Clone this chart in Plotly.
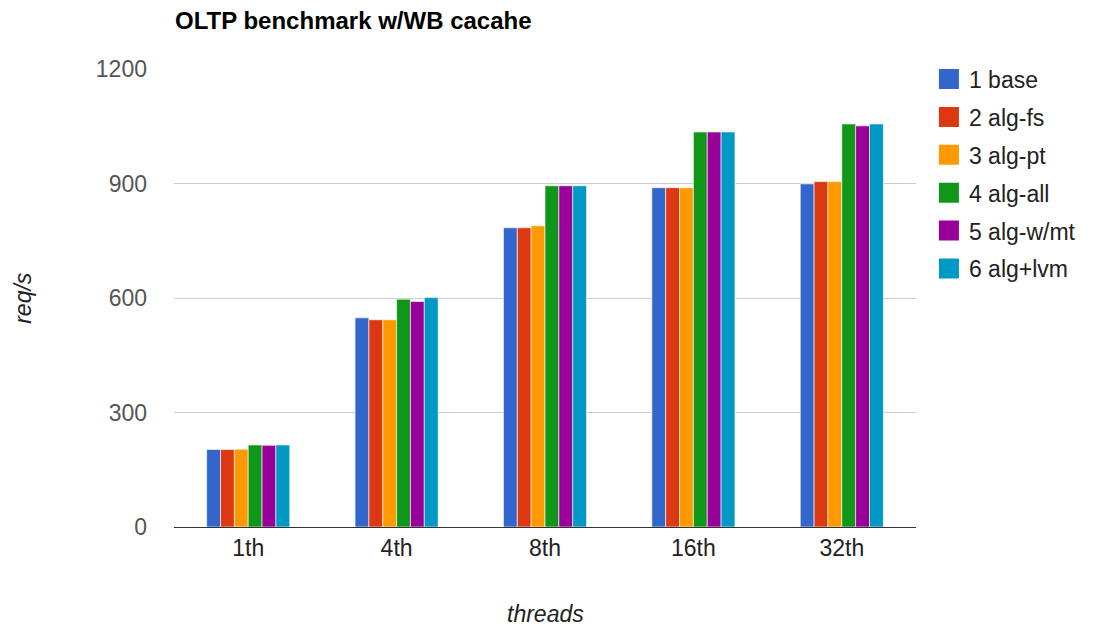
import plotly.graph_objects as go

categories = ["1th", "4th", "8th", "16th", "32th"]
series_names = ["1 base", "2 alg-fs", "3 alg-pt", "4 alg-all", "5 alg-w/mt", "6 alg+lvm"]
base = [203, 548, 784, 889, 899]
alg_fs = [203, 543, 784, 889, 905]
alg_pt = [204, 543, 789, 889, 905]
alg_all = [215, 597, 894, 1035, 1056]
alg_wmt = [214, 591, 894, 1035, 1051]
alg_lvm = [215, 601, 894, 1035, 1056]
series_values = [base, alg_fs, alg_pt, alg_all, alg_wmt, alg_lvm]
colors = ["#3366cc", "#dc3912", "#ff9900", "#109618", "#990099", "#0099c6"]
y_ticks = [0, 300, 600, 900, 1200]

FONT = "Liberation Sans, Arial, sans-serif"

# figure sized to fit the 8px body margin of the html page
W, H = 1085, 620
L, R, T, B = 166, 173, 61, 101
PW, PH = W - L - R, H - T - B

fig = go.Figure()
for name, vals, col in zip(series_names, series_values, colors):
    fig.add_trace(go.Bar(
        x=categories, y=vals, name=name, showlegend=False,
        marker=dict(color=col, line=dict(color="rgba(255,255,255,0.6)", width=1)),
    ))
# legend entries with larger square swatches
for name, col in zip(series_names, colors):
    fig.add_trace(go.Scatter(
        x=[None], y=[None], mode="markers", name=name, legendgroup=name,
        marker=dict(symbol="square", size=16, color=col, line=dict(color=col, width=4)),
    ))

fig.update_layout(
    width=W, height=H,
    margin=dict(l=L, r=R, t=T, b=B),
    paper_bgcolor="white", plot_bgcolor="white",
    barmode="group", bargap=0.44, bargroupgap=0.0,
    font=dict(family=FONT, size=23, color="#444444"),
    showlegend=True,
    legend=dict(x=1 + (925 - L - PW) / PW, xanchor="left", y=1.025, yanchor="top",
                font=dict(family=FONT, size=23, color="#222222"),
                tracegroupgap=5, bgcolor="rgba(0,0,0,0)", itemsizing="trace"),
    xaxis=dict(showgrid=False, showline=True, linecolor="#333333", linewidth=1,
               ticks="", tickfont=dict(size=23, color="#222222")),
    yaxis=dict(range=[0, 1200], tickvals=y_ticks, showgrid=True, gridcolor="#cccccc",
               gridwidth=1, zeroline=False, showline=False, ticks="",
               tickfont=dict(size=23, color="#555555"), ticklabelstandoff=26),
    annotations=[
        dict(text="<b>OLTP benchmark w/WB cacahe</b>", xref="paper", yref="paper",
             x=(165 - L) / PW, y=1 + (T - 12) / PH, xanchor="left", yanchor="middle",
             showarrow=False, font=dict(family=FONT, size=24, color="#000000")),
        dict(text="<i>req/s</i>", xref="paper", yref="paper", x=(14 - L) / PW, y=0.5,
             xanchor="center", yanchor="middle",
             textangle=-90, showarrow=False, font=dict(family=FONT, size=23, color="#222222")),
        dict(text="<i>threads</i>", xref="paper", yref="paper", x=0.5, y=-(606 - (T + PH)) / PH,
             xanchor="center", yanchor="middle", showarrow=False,
             font=dict(family=FONT, size=23, color="#222222")),
    ],
)

fig.write_html("out.html")
